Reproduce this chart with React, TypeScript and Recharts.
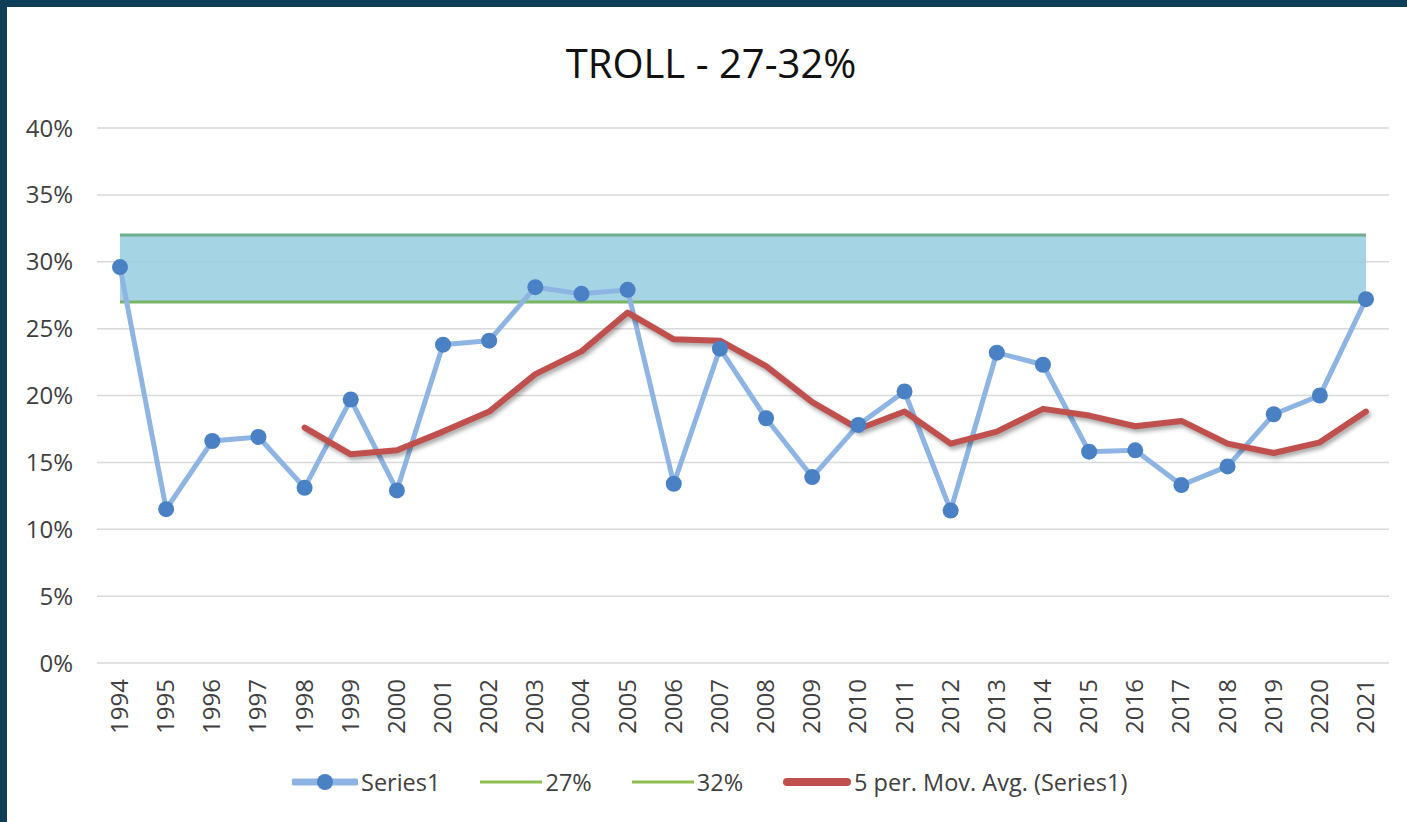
import React from 'react';
import { ComposedChart, Line, Area, XAxis, YAxis, CartesianGrid } from 'recharts';

const years = [
  1994, 1995, 1996, 1997, 1998, 1999, 2000, 2001, 2002, 2003, 2004, 2005, 2006, 2007,
  2008, 2009, 2010, 2011, 2012, 2013, 2014, 2015, 2016, 2017, 2018, 2019, 2020, 2021,
];
const series1 = [
  29.6, 11.5, 16.6, 16.9, 13.1, 19.7, 12.9, 23.8, 24.1, 28.1, 27.6, 27.9, 13.4, 23.5,
  18.3, 13.9, 17.8, 20.3, 11.4, 23.2, 22.3, 15.8, 15.9, 13.3, 14.7, 18.6, 20.0, 27.2,
];
// 5 per. moving average (starts at 1998)
const movAvg = [
  null, null, null, null, 17.6, 15.6, 15.9, 17.3, 18.8, 21.6, 23.3, 26.2, 24.2, 24.1,
  22.2, 19.5, 17.5, 18.8, 16.4, 17.3, 19.0, 18.5, 17.7, 18.1, 16.4, 15.7, 16.5, 18.8,
];
const lowBand = 27;
const highBand = 32;
const yTicks = [0, 5, 10, 15, 20, 25, 30, 35, 40];

const chartData = years.map((year, i) => ({
  year: String(year),
  series1: series1[i],
  low: lowBand,
  high: highBand,
  band: [lowBand, highBand],
  ma: movAvg[i],
}));

const FONT = '"Open Sans", sans-serif';

const YearTick = (props: any) => {
  const { x, y, payload } = props;
  return (
    <text
      transform={`translate(${x + 8},${y + 8}) rotate(-90)`}
      textAnchor="end"
      fill="#404040"
      fontSize={24}
      fontFamily={FONT}
    >
      {payload.value}
    </text>
  );
};

const LegendItem = ({ icon, label }: { icon: React.ReactNode; label: string }) => (
  <div style={{ display: 'flex', alignItems: 'center' }}>
    {icon}
    <span style={{ marginLeft: 3 }}>{label}</span>
  </div>
);

export default function App() {
  return (
    <div style={{ width: 1407, height: 822, background: '#0f3f58', position: 'relative', overflow: 'hidden' }}>
      <style>{`body{margin:0} .ma-line path{filter:drop-shadow(2px 3px 2px rgba(0,0,0,0.35));}`}</style>
      <div style={{ position: 'absolute', left: 7, top: 7, width: 1400, height: 815, background: '#ffffff' }}>
        <div
          style={{
            position: 'absolute',
            top: 29,
            left: 4,
            width: 1400,
            textAlign: 'center',
            fontFamily: FONT,
            fontSize: 40,
            color: '#111',
            lineHeight: '54px',
          }}
        >
          TROLL - 27-32%
        </div>
        <ComposedChart
          width={1400}
          height={815}
          data={chartData}
          margin={{ top: 121, right: 18, bottom: 79, left: 0 }}
          style={{ position: 'absolute', left: 0, top: 0 }}
        >
          <CartesianGrid vertical={false} stroke="#d9d9d9" strokeWidth={1.5} />
          <XAxis
            dataKey="year"
            scale="point"
            padding={{ left: 23, right: 23 }}
            axisLine={false}
            tickLine={false}
            interval={0}
            height={80}
            tick={<YearTick />}
          />
          <YAxis
            domain={[0, 40]}
            ticks={yTicks}
            width={90}
            axisLine={false}
            tickLine={false}
            tickFormatter={(v: number) => `${v}%`}
            tick={{ fill: '#404040', fontSize: 24, fontFamily: FONT }}
            tickMargin={18}
          />
          <Area
            type="linear"
            dataKey="band"
            fill="#95cde0"
            fillOpacity={0.85}
            stroke="none"
            isAnimationActive={false}
          />
          <Line type="linear" dataKey="low" stroke="#7ab565" strokeWidth={3} dot={false} isAnimationActive={false} />
          <Line type="linear" dataKey="high" stroke="#6eae8e" strokeWidth={3} dot={false} isAnimationActive={false} />
          <Line
            type="linear"
            dataKey="series1"
            stroke="#8db4e2"
            strokeWidth={5}
            dot={{ r: 8, fill: '#4a80c4', stroke: 'none' }}
            isAnimationActive={false}
          />
          <Line
            type="linear"
            dataKey="ma"
            className="ma-line"
            stroke="#c0504d"
            strokeWidth={6}
            strokeLinecap="round"
            strokeLinejoin="round"
            dot={false}
            connectNulls={false}
            isAnimationActive={false}
          />
        </ComposedChart>
        <div
          style={{
            position: 'absolute',
            top: 759,
            left: 285,
            display: 'flex',
            gap: 40,
            fontFamily: FONT,
            fontSize: 23.5,
            color: '#404040',
            lineHeight: '32px',
          }}
        >
          <LegendItem
            label="Series1"
            icon={
              <svg width={66} height={20}>
                <line x1={2} y1={10} x2={64} y2={10} stroke="#8db4e2" strokeWidth={7} strokeLinecap="round" />
                <circle cx={33} cy={10} r={8} fill="#4a80c4" />
              </svg>
            }
          />
          <LegendItem
            label="27%"
            icon={
              <svg width={62} height={20}>
                <line x1={0} y1={10} x2={62} y2={10} stroke="#8fbe4f" strokeWidth={3} />
              </svg>
            }
          />
          <LegendItem
            label="32%"
            icon={
              <svg width={62} height={20}>
                <line x1={0} y1={10} x2={62} y2={10} stroke="#8fbe4f" strokeWidth={3} />
              </svg>
            }
          />
          <LegendItem
            label="5 per. Mov. Avg. (Series1)"
            icon={
              <svg width={68} height={20}>
                <line x1={4} y1={10} x2={64} y2={10} stroke="#c0504d" strokeWidth={8} strokeLinecap="round" />
              </svg>
            }
          />
        </div>
      </div>
    </div>
  );
}
